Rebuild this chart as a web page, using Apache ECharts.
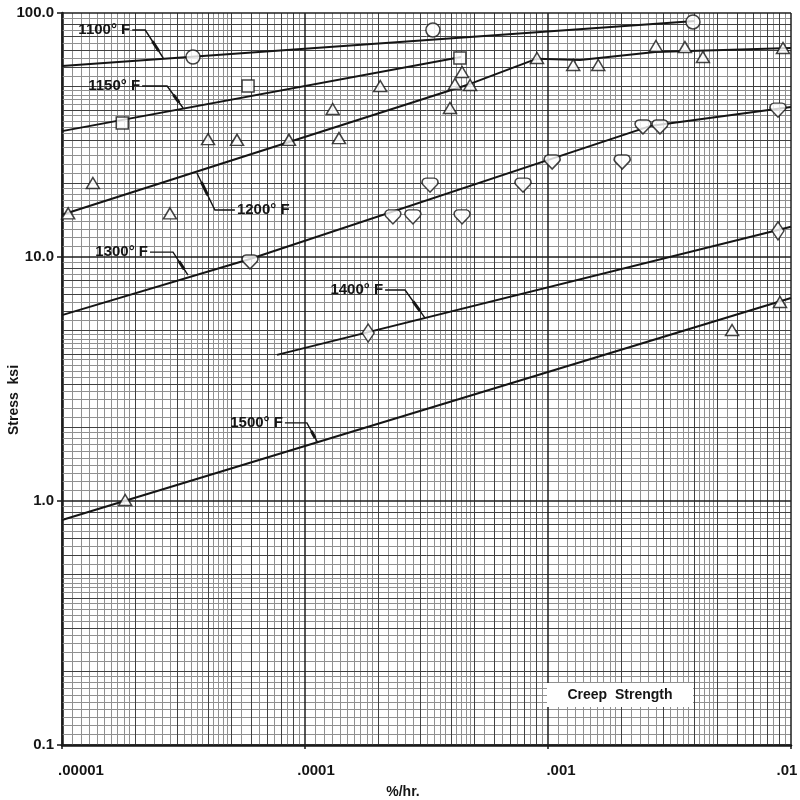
<!DOCTYPE html>
<html>
<head>
<meta charset="utf-8">
<script src="https://cdn.jsdelivr.net/npm/echarts@6/dist/echarts.min.js"></script>
<style>html,body{margin:0;padding:0;background:#fff}#c{width:800px;height:800px}</style>
</head>
<body>
<div id="c"></div>
<script>
// ---- tick labels ----
const xTickLabels = ['.00001', '.0001', '.001', '.01'];
const yTickLabels = ['0.1', '1.0', '10.0', '100.0'];
const xDecades = [1e-5, 1e-4, 1e-3, 1e-2];
const yDecades = [0.1, 1, 10, 100];

// ---- temperature names ----
const temps = ['1100°F', '1150°F', '1200°F', '1300°F', '1400°F', '1500°F'];

// ---- fitted curves (creep rate %/hr, stress ksi) ----
const curve1100X = [0.00001, 0.00403];
const curve1100Y = [60.6, 92.7];
const curve1150X = [0.00001, 0.000439];
const curve1150Y = [32.8, 66.0];
const curve1200X = [0.00001, 0.000478, 0.000901, 0.001355, 0.00276, 0.01];
const curve1200Y = [14.9, 51.2, 65.0, 64.2, 69.2, 71.9];
const curve1300X = [0.00001, 0.0000594, 0.00263, 0.01];
const curve1300Y = [5.78, 9.81, 34.4, 41.2];
const curve1400X = [0.0000767, 0.01];
const curve1400Y = [3.97, 13.3];
const curve1500X = [0.00001, 0.01];
const curve1500Y = [0.836, 6.79];

// ---- test points ----
const pts1100X = [0.0000346, 0.000336, 0.00395];
const pts1100Y = [66.0, 85.2, 91.9];
const pts1150X = [0.0000177, 0.0000583, 0.000434];
const pts1150Y = [35.4, 50.2, 65.4];
const pts1200X = [0.0000106, 0.0000134, 0.0000278, 0.0000399, 0.0000525, 0.0000859, 0.000138, 0.000130, 0.000204, 0.000395, 0.000414, 0.000443, 0.000478, 0.000901, 0.00127, 0.00161, 0.00278, 0.00366, 0.00434, 0.00927];
const pts1200Y = [15.1, 20.1, 15.1, 30.4, 30.2, 30.2, 30.7, 40.4, 50.2, 40.8, 51.2, 57.3, 50.7, 65.4, 61.2, 61.2, 73.2, 72.5, 66.0, 71.9];
const pts1300X = [0.0000594, 0.000230, 0.000278, 0.000327, 0.000443, 0.000789, 0.00104, 0.00202, 0.00246, 0.00289, 0.00884];
const pts1300Y = [9.54, 14.6, 14.6, 19.7, 14.6, 19.7, 24.5, 24.5, 34.1, 34.1, 40.0];
const pts1400X = [0.000182, 0.00884];
const pts1400Y = [4.88, 12.8];
const pts1500X = [0.0000182, 0.00572, 0.00901];
const pts1500Y = [1.01, 5.02, 6.54];

// ---- log-paper grid mantissas ----
const gridFine = [1.1,1.2,1.3,1.4,1.5,1.6,1.7,1.8,1.9,2.2,2.4,2.6,2.8,3.2,3.4,3.6,3.8,4.2,4.4,4.6,4.8,5.5,6.5,7.5,8.5,9.5];
const gridMedium = [2,3,4,5,6,7,8,9];

// ---- label anchor points on curves (data coords) ----
const labelTipX = [0.0000261, 0.0000315, 0.0000359, 0.0000330, 0.000312, 0.000113];
const labelTipY = [65.4, 40.8, 22.1, 8.43, 5.62, 1.73];

const FONT = '"Liberation Sans", Arial, sans-serif';
const INK = '#151515';

function pairs(xs, ys) { return xs.map((x, i) => [x, ys[i]]); }

const shield = 'path://M8,14 L1,6.5 C-1,3.5 1,0 4,0 L12,0 C15,0 17,3.5 15,6.5 Z';
const markerStyle = {color: '#fff', borderColor: INK, borderWidth: 1.5};

const curves = [
  [curve1100X, curve1100Y], [curve1150X, curve1150Y], [curve1200X, curve1200Y],
  [curve1300X, curve1300Y], [curve1400X, curve1400Y], [curve1500X, curve1500Y]
];
const points = [
  [pts1100X, pts1100Y, 'circle', 14],
  [pts1150X, pts1150Y, 'rect', 12],
  [pts1200X, pts1200Y, 'triangle', [13, 11]],
  [pts1300X, pts1300Y, shield, [16, 14]],
  [pts1400X, pts1400Y, 'diamond', [12, 18]],
  [pts1500X, pts1500Y, 'triangle', [13, 11]]
];

const series = [];
curves.forEach((c, i) => series.push({
  name: temps[i] + ' curve', type: 'line', data: pairs(c[0], c[1]), symbol: 'none', z: 5,
  lineStyle: {color: INK, width: 2}
}));
points.forEach((p, i) => series.push({
  name: temps[i], type: 'scatter', data: pairs(p[0], p[1]), symbol: p[2], symbolSize: p[3], z: 6,
  itemStyle: markerStyle
}));

const xLabelRich = {
  a: {padding: [0, 0, 0, 38]}, b: {padding: [0, 0, 0, 22]}, c: {padding: [0, 0, 0, 26]}, d: {padding: [0, 8, 0, 0]}
};
const xLabelKeys = ['a', 'b', 'c', 'd'];

const chart = echarts.init(document.getElementById('c'), null, {renderer: 'canvas'});
chart.setOption({
  animation: false,
  backgroundColor: '#fff',
  grid: {left: 62, right: 9, top: 13, bottom: 55, outerBoundsMode: 'none', containLabel: false},
  xAxis: {
    type: 'log', logBase: 10, min: 0.00001, max: 0.01,
    axisLine: {show: true, lineStyle: {color: INK, width: 2.5}},
    axisTick: {show: true, length: 4, lineStyle: {color: INK, width: 1.5}},
    axisLabel: {
      margin: 18, color: INK, fontFamily: FONT, fontWeight: 'bold', fontSize: 15,
      formatter: v => {
        const k = Math.round(Math.log10(v / xDecades[0]));
        return '{' + xLabelKeys[k] + '|' + xTickLabels[k] + '}';
      },
      rich: Object.fromEntries(Object.entries(xLabelRich).map(([k, s]) =>
        [k, Object.assign({fontFamily: FONT, fontWeight: 'bold', fontSize: 15, color: INK}, s)]))
    },
    splitLine: {show: false}
  },
  yAxis: {
    type: 'log', logBase: 10, min: 0.1, max: 100,
    axisLine: {show: true, lineStyle: {color: INK, width: 2.5}},
    axisTick: {show: true, length: 5, lineStyle: {color: INK, width: 1.5}},
    axisLabel: {
      margin: 8, color: INK, fontFamily: FONT, fontWeight: 'bold', fontSize: 15,
      formatter: v => yTickLabels[Math.round(Math.log10(v / yDecades[0]))]
    },
    splitLine: {show: false}
  },
  series: series
});

const graphics = [];
// log-paper grid, positioned through the axes' own scales
const topPx = chart.convertToPixel({yAxisIndex: 0}, yDecades[3]);
const botPx = chart.convertToPixel({yAxisIndex: 0}, yDecades[0]);
const leftPx = chart.convertToPixel({xAxisIndex: 0}, xDecades[0]);
const rightPx = chart.convertToPixel({xAxisIndex: 0}, xDecades[3]);
const fineStyle = {stroke: '#909090', lineWidth: 1};
const medStyle = {stroke: '#404040', lineWidth: 1};
const majStyle = {stroke: '#1e1e1e', lineWidth: 1.5};
function crisp(p, w) { return w % 2 === 1 ? Math.round(p - 0.5) + 0.5 : Math.round(p); }
function vline(v, st) {
  const x = crisp(chart.convertToPixel({xAxisIndex: 0}, v), st.lineWidth);
  graphics.push({type: 'line', silent: true, z: 1, shape: {x1: x, y1: topPx, x2: x, y2: botPx}, style: st});
}
function hline(v, st) {
  const y = crisp(chart.convertToPixel({yAxisIndex: 0}, v), st.lineWidth);
  graphics.push({type: 'line', silent: true, z: 1, shape: {x1: leftPx, y1: y, x2: rightPx, y2: y}, style: st});
}
xDecades.slice(0, 3).forEach(d => gridFine.forEach(m => vline(d * m, fineStyle)));
yDecades.slice(0, 3).forEach(d => gridFine.forEach(m => hline(d * m, fineStyle)));
xDecades.slice(0, 3).forEach(d => gridMedium.forEach(m => vline(d * m, medStyle)));
yDecades.slice(0, 3).forEach(d => gridMedium.forEach(m => hline(d * m, medStyle)));
xDecades.forEach(d => vline(d, majStyle));
yDecades.forEach(d => hline(d, majStyle));

// callout labels with leader lines
const leaderLayout = [
  {elbow: [-18, -28], end: [-31, -28], align: 'right'},
  {elbow: [-16, -22], end: [-41, -22], align: 'right'},
  {elbow: [18, 37], end: [38, 37], align: 'left'},
  {elbow: [-15, -23], end: [-38, -23], align: 'right'},
  {elbow: [-20, -28], end: [-40, -28], align: 'right'},
  {elbow: [-11, -20], end: [-33, -20], align: 'right'}
];
temps.forEach((t, i) => {
  const tip = chart.convertToPixel({gridIndex: 0}, [labelTipX[i], labelTipY[i]]);
  const L = leaderLayout[i];
  const el = [tip[0] + L.elbow[0], tip[1] + L.elbow[1]];
  const en = [tip[0] + L.end[0], tip[1] + L.end[1]];
  graphics.push({type: 'polyline', z: 20, shape: {points: [en, el, tip]}, style: {stroke: INK, lineWidth: 1.4, fill: null}});
  const a = [el[0] + (tip[0] - el[0]) * 0.4, el[1] + (tip[1] - el[1]) * 0.4];
  const b = [el[0] + (tip[0] - el[0]) * 0.75, el[1] + (tip[1] - el[1]) * 0.75];
  graphics.push({type: 'line', z: 20, shape: {x1: a[0], y1: a[1], x2: b[0], y2: b[1]}, style: {stroke: INK, lineWidth: 3}});
  const tx = L.align === 'right' ? en[0] - 2 : en[0] + 2;
  graphics.push({type: 'text', z: 21, x: tx, y: en[1],
    style: {text: t.replace('°F', '° F'), align: L.align, verticalAlign: 'middle', font: 'bold 15px ' + FONT, fill: INK}});
});
graphics.push({type: 'text', z: 21, x: 14, y: 400, rotation: Math.PI / 2,
  style: {text: 'Stress  ksi', align: 'center', verticalAlign: 'middle', font: 'bold 14px ' + FONT, fill: INK}});
graphics.push({type: 'text', z: 21, x: 403, y: 785,
  style: {text: '%/hr.', align: 'center', verticalAlign: 'top', font: 'bold 14px ' + FONT, fill: INK}});
graphics.push({type: 'rect', z: 20, shape: {x: 547, y: 683, width: 146, height: 24}, style: {fill: '#fff', stroke: null}});
graphics.push({type: 'text', z: 21, x: 620, y: 695,
  style: {text: 'Creep  Strength', align: 'center', verticalAlign: 'middle', font: 'bold 14px ' + FONT, fill: INK}});
chart.setOption({graphic: graphics});
</script>
</body>
</html>
